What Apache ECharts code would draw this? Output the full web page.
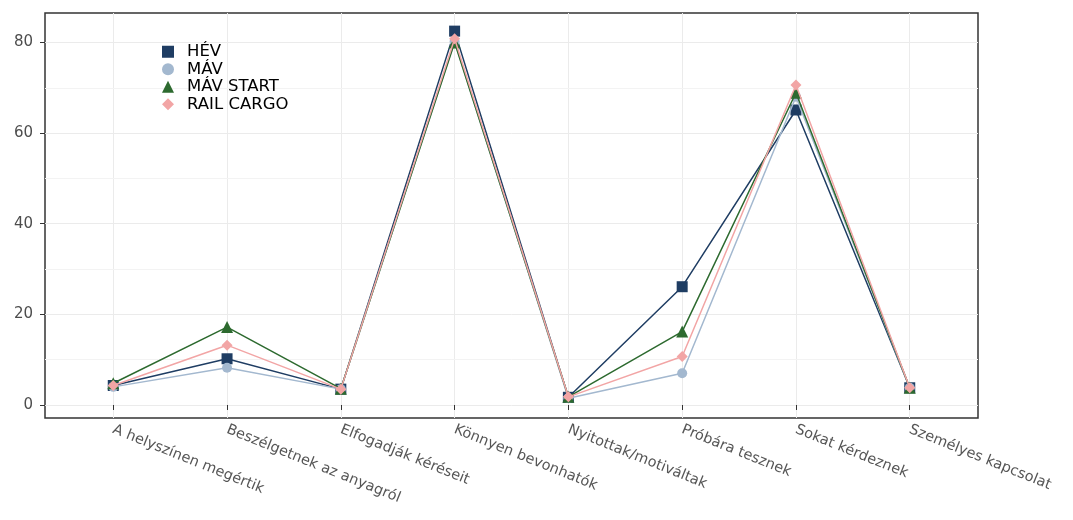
<!DOCTYPE html>
<html>
<head>
<meta charset="utf-8">
<script src="https://cdn.jsdelivr.net/npm/echarts@6/dist/echarts.min.js"></script>
<style>
html,body{margin:0;padding:0;background:#fff;}
#chart{width:1073px;height:520px;}
</style>
</head>
<body>
<div id="chart"></div>
<script>
const categories = ["A helyszínen megértik","Beszélgetnek az anyagról","Elfogadják kéréseit","Könnyen bevonhatók","Nyitottak/motiváltak","Próbára tesznek","Sokat kérdeznek","Személyes kapcsolat"];
const hev       = [4.3, 10.2, 3.5, 82.5, 1.7, 26.1, 65.1, 3.8];
const mav       = [4.0,  8.2, 3.5, 80.2, 1.5,  7.0, 68.0, 3.8];
const mavStart  = [4.8, 17.2, 3.6, 80.0, 1.8, 16.2, 68.9, 3.8];
const railCargo = [4.3, 13.2, 3.5, 80.8, 1.8, 10.7, 70.6, 3.8];
const seriesNames = ["HÉV","MÁV","MÁV START","RAIL CARGO"];
const yTicks = [0, 20, 40, 60, 80];
const yMinorTicks = [10, 30, 50, 70];
const xPositions = categories.map((c, i) => i + 1);

const colors = ["#1f3d63", "#a3b8cf", "#2d6a2f", "#f2a5a5"];
const symbols = ["rect", "circle", "triangle", "diamond"];
const sizes = [11, 10, 12, 11];
const allData = [hev, mav, mavStart, railCargo];

const series = allData.map((vals, k) => ({
  name: seriesNames[k],
  type: 'line',
  data: vals.map((v, i) => [xPositions[i], v]),
  symbol: symbols[k],
  symbolSize: sizes[k],
  showSymbol: true,
  itemStyle: {color: colors[k]},
  lineStyle: {color: colors[k], width: 1.5},
  z: 3 + k,
  animation: false
}));
series[0].markLine = {
  silent: true,
  symbol: 'none',
  label: {show: false},
  lineStyle: {color: '#f3f3f3', width: 1, type: 'solid'},
  data: yMinorTicks.map(v => ({yAxis: v})),
  z: 1,
  animation: false
};

const chart = echarts.init(document.getElementById('chart'), null, {renderer: 'canvas'});
chart.setOption({
  backgroundColor: '#ffffff',
  animation: false,
  grid: {left: 45, right: 95, top: 13, bottom: 102, show: true, borderColor: '#333333', borderWidth: 1.5, backgroundColor: 'transparent'},
  legend: {
    orient: 'vertical',
    left: 162,
    top: 43,
    padding: 0,
    itemWidth: 12,
    itemHeight: 12,
    itemGap: 0,
    textStyle: {fontFamily: 'DejaVu Sans', fontSize: 16.5, lineHeight: 17.5, color: '#000000', padding: [0, 0, 0, 8]},
    data: seriesNames.map((n, k) => ({name: n, icon: symbols[k]}))
  },
  xAxis: {
    type: 'value',
    min: 0.4,
    max: 8.6,
    axisLine: {show: false},
    axisTick: {show: true, length: 5, lineStyle: {color: '#333333', width: 1}, customValues: xPositions},
    splitLine: {show: true, lineStyle: {color: '#ebebeb', width: 1}},
    axisLabel: {
      customValues: xPositions,
      rotate: -22,
      margin: 11,
      fontFamily: 'DejaVu Sans',
      fontSize: 14.5,
      color: '#555555',
      formatter: v => categories[Math.round(v) - 1] || ''
    }
  },
  yAxis: {
    type: 'value',
    min: -2.87,
    max: 86.5,
    axisLine: {show: false},
    axisTick: {show: true, length: 5, lineStyle: {color: '#333333', width: 1}, customValues: yTicks},
    splitLine: {show: true, lineStyle: {color: '#ebebeb', width: 1}},
    axisLabel: {
      customValues: yTicks,
      margin: 12,
      fontFamily: 'DejaVu Sans',
      fontSize: 15,
      color: '#4d4d4d'
    }
  },
  series: series
});
</script>
</body>
</html>
